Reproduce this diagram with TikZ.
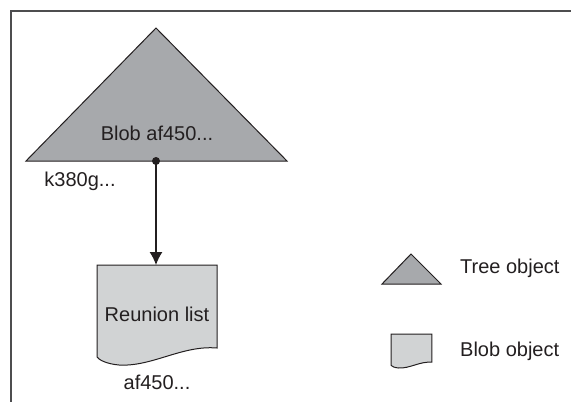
\documentclass[tikz,border=0pt]{standalone}
\usepackage{fontspec}
\setmainfont{Liberation Sans}
\usetikzlibrary{arrows.meta}
\definecolor{treegray}{HTML}{A7A9AC}
\definecolor{blobgray}{HTML}{D1D3D4}
\definecolor{ink}{HTML}{231F20}
\definecolor{framegray}{HTML}{4D4D4F}
\tikzset{
  lbl/.style={font=\fontsize{20}{22}\selectfont, text=ink, inner sep=0pt},
  shapeline/.style={draw=ink, line width=1pt, line join=miter},
  blobshape/.pic={
    \path[shapeline, fill=blobgray] (0,0) -- (120,0) -- (120,83)
      .. controls (85,80) and (55,102) .. (22,100)
      .. controls (10,99) and (2,95) .. (0,92) -- cycle;
  }
}
\begin{document}
\begin{tikzpicture}[x=1pt,y=-1pt]
\useasboundingbox (0,0) rectangle (571,402);
% frame
\draw[framegray, line width=2pt] (11,402) -- (11,11) -- (571,11);
% main tree
\path[shapeline, fill=treegray] (156,28) -- (287,161) -- (26,161) -- cycle;
\node[lbl] (treelabel) at (157,133) {Blob af450...};
\coordinate (treebase) at (156,161);
\node[lbl] (treename) at (80,181) {k380g...};
% main blob
\pic at (97,265) {blobshape};
\coordinate (blobtop) at (156,265);
\node[lbl] (bloblabel) at (157,314) {Reunion list};
\node[lbl] (blobname) at (157,382) {af450...};
% connector
\fill[ink] (treebase) circle (4pt);
\draw[ink, line width=1.2pt, -{Latex[length=13pt,width=13pt]}] (treebase) -- (blobtop);
% legend
\path[shapeline, fill=treegray] (411,254) -- (441,284) -- (382,284) -- cycle;
\node[lbl, anchor=west] (treelegend) at (460,268) {Tree object};
\pic[scale=0.34, transform shape] at (391,334) {blobshape};
\node[lbl, anchor=west] (bloblegend) at (460,351) {Blob object};
\end{tikzpicture}
\end{document}
